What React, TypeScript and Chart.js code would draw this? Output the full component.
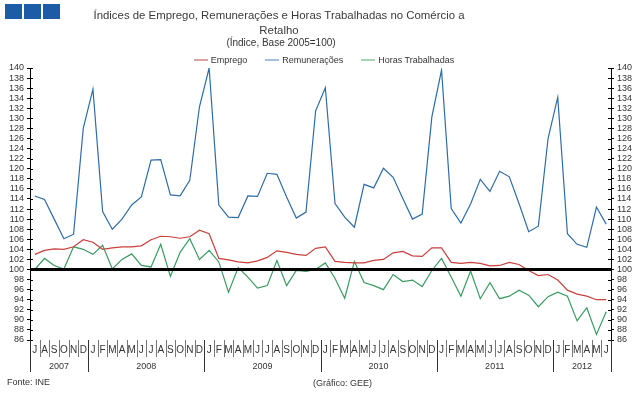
import React, { useEffect, useRef } from 'react';
import { Chart, registerables } from 'chart.js';

Chart.register(...registerables);

// ---- Data ----
const monthLabels = [
  'J', 'A', 'S', 'O', 'N', 'D',
  'J', 'F', 'M', 'A', 'M', 'J', 'J', 'A', 'S', 'O', 'N', 'D',
  'J', 'F', 'M', 'A', 'M', 'J', 'J', 'A', 'S', 'O', 'N', 'D',
  'J', 'F', 'M', 'A', 'M', 'J', 'J', 'A', 'S', 'O', 'N', 'D',
  'J', 'F', 'M', 'A', 'M', 'J', 'J', 'A', 'S', 'O', 'N', 'D',
  'J', 'F', 'M', 'A', 'M', 'J',
];
const yearLabels = ['2007', '2008', '2009', '2010', '2011', '2012'];
const yearMonthCounts = [6, 12, 12, 12, 12, 6];

const emprego = [
  103.0, 103.8, 104.1, 104.0, 104.5, 105.9,
  105.4, 104.0, 104.3, 104.5, 104.5, 104.7, 105.9, 106.6, 106.5, 106.2, 106.5, 107.8,
  107.1, 102.2, 101.9, 101.5, 101.3, 101.7, 102.4, 103.7, 103.4, 103.0, 102.8, 104.2,
  104.5, 101.6, 101.4, 101.3, 101.3, 101.8, 102.0, 103.3, 103.6, 102.7, 102.6, 104.3,
  104.3, 101.4, 101.2, 101.4, 101.2, 100.7, 100.8, 101.4, 101.0, 99.8, 98.8, 99.0,
  97.9, 95.9, 95.1, 94.7, 94.0, 94.0,
];
const remuneracoes = [
  114.6, 113.9, 110.0, 106.1, 107.0, 128.0,
  135.8, 111.5, 108.0, 110.0, 112.8, 114.4, 121.7, 121.8, 114.8, 114.6, 117.7, 132.3,
  140.0, 112.8, 110.4, 110.3, 114.6, 114.5, 119.1, 118.9, 114.4, 110.2, 111.4, 131.5,
  136.1, 113.1, 110.4, 108.4, 116.9, 116.2, 120.1, 118.3, 114.1, 110.0, 111.0, 130.3,
  139.6, 112.1, 109.2, 113.0, 117.9, 115.5, 119.5, 118.4, 113.1, 107.5, 108.6, 126.0,
  134.2, 107.1, 105.0, 104.4, 112.4, 109.0,
];
const horasTrabalhadas = [
  100.0, 102.2, 100.8, 100.1, 104.5, 104.0,
  103.0, 104.8, 100.1, 102.0, 103.1, 100.8, 100.5, 105.0, 98.6, 103.4, 106.1, 102.0,
  103.8, 101.5, 95.5, 100.4, 98.5, 96.3, 96.8, 101.8, 96.8, 99.8, 99.6, 100.0,
  101.3, 98.2, 94.3, 101.6, 97.4, 96.8, 96.0, 99.0, 97.6, 97.9, 96.6, 99.8,
  102.2, 98.5, 94.7, 99.7, 94.2, 97.4, 94.2, 94.7, 95.9, 94.9, 92.6, 94.6,
  95.5, 94.7, 89.8, 92.4, 87.1, 91.6,
];
const yMin = 86;
const yMax = 140;
const yStep = 2;
const baseValue = 100;

const seriesNames = ['Emprego', 'Remunerações', 'Horas Trabalhadas'];
const RED = '#c9403c';
const BLUE = '#2d6ca5';
const GREEN = '#3a9b62';
const LEGEND_COLORS = ['#dba3a2', '#a5bfd8', '#a6d2b8'];
const FONT = "'Liberation Sans', Arial, sans-serif";
const TEXT = '#333333';

const decorPlugin = {
  id: 'decor',
  afterDatasetsDraw(chart: any) {
    const { ctx, chartArea, scales } = chart;
    const yv = scales.y.getPixelForValue(baseValue);
    ctx.save();
    ctx.strokeStyle = '#000';
    ctx.lineWidth = 3;
    ctx.beginPath();
    ctx.moveTo(chartArea.left, yv);
    ctx.lineTo(chartArea.right, yv);
    ctx.stroke();
    ctx.restore();
  },
  afterDraw(chart: any) {
    const { ctx, chartArea, scales } = chart;
    const xs = scales.x;
    const n = monthLabels.length;
    const boundary = (k: number) => {
      if (k <= 0) return chartArea.left;
      if (k >= n) return chartArea.right;
      return (xs.getPixelForValue(k - 1) + xs.getPixelForValue(k)) / 2;
    };
    const bottom = chartArea.bottom;
    ctx.save();
    // inner tick marks on y axes
    ctx.strokeStyle = '#000';
    ctx.lineWidth = 1;
    for (let v = yMin; v <= yMax; v += yStep) {
      const py = Math.round(scales.y.getPixelForValue(v)) + 0.5;
      ctx.beginPath();
      ctx.moveTo(chartArea.left, py);
      ctx.lineTo(chartArea.left + 3, py);
      ctx.moveTo(chartArea.right, py);
      ctx.lineTo(chartArea.right - 3, py);
      ctx.stroke();
    }
    // month separators
    ctx.strokeStyle = '#777';
    for (let k = 1; k < n; k++) {
      const px = Math.round(boundary(k)) + 0.5;
      ctx.beginPath();
      ctx.moveTo(px, bottom);
      ctx.lineTo(px, bottom + 17);
      ctx.stroke();
    }
    // year separators and labels
    let start = 0;
    ctx.fillStyle = TEXT;
    ctx.font = `9px ${FONT}`;
    ctx.textAlign = 'center';
    ctx.textBaseline = 'middle';
    const yearBounds = [0];
    yearMonthCounts.forEach((c) => yearBounds.push(yearBounds[yearBounds.length - 1] + c));
    ctx.strokeStyle = '#333';
    yearBounds.forEach((k) => {
      const px = Math.round(boundary(k)) + 0.5;
      ctx.beginPath();
      ctx.moveTo(px, bottom);
      ctx.lineTo(px, bottom + 32);
      ctx.stroke();
    });
    yearLabels.forEach((lab, i) => {
      const x0 = boundary(start);
      const x1 = boundary(start + yearMonthCounts[i]);
      ctx.fillText(lab, (x0 + x1) / 2, bottom + 27);
      start += yearMonthCounts[i];
    });
    ctx.restore();
  },
};

const yScale = (position: 'left' | 'right', width: number) => ({
  position,
  min: yMin,
  max: yMax,
  ticks: {
    stepSize: yStep,
    autoSkip: false,
    padding: 3,
    color: TEXT,
    font: { size: 9, family: FONT },
  },
  grid: { drawOnChartArea: false, tickLength: 3, color: '#000' },
  border: { display: true, color: '#000', width: 1 },
  afterFit: (s: any) => {
    s.width = width;
  },
});

export default function App() {
  const canvasRef = useRef<HTMLCanvasElement | null>(null);

  useEffect(() => {
    if (!canvasRef.current) return;
    const colors = [RED, BLUE, GREEN];
    const series = [emprego, remuneracoes, horasTrabalhadas];
    const chart = new Chart(canvasRef.current, {
      type: 'line',
      data: {
        labels: monthLabels,
        datasets: series.map((d, i) => ({
          label: seriesNames[i],
          data: d,
          borderColor: colors[i],
          backgroundColor: colors[i],
          borderWidth: 1.2,
          pointRadius: 0,
          tension: 0,
          fill: false,
          yAxisID: 'y',
        })),
      },
      options: {
        responsive: false,
        animation: false,
        devicePixelRatio: 1,
        layout: { padding: { top: 68, left: 0, right: 0, bottom: 0 } },
        plugins: {
          legend: { display: false },
          title: { display: false },
          tooltip: { enabled: false },
        },
        scales: {
          x: {
            offset: true,
            grid: { display: false, drawTicks: false },
            border: { display: false },
            ticks: {
              autoSkip: false,
              maxRotation: 0,
              minRotation: 0,
              padding: 4,
              color: TEXT,
              font: { size: 10, family: FONT },
            },
            afterFit: (s: any) => {
              s.height = 54;
            },
          },
          y: yScale('left', 30),
          y2: yScale('right', 32),
        },
      } as any,
      plugins: [decorPlugin],
    });
    return () => chart.destroy();
  }, []);

  const abs = (s: React.CSSProperties): React.CSSProperties => ({ position: 'absolute', ...s });

  return (
    <div
      style={{
        position: 'fixed',
        left: 0,
        top: 0,
        width: 643,
        height: 394,
        background: '#fff',
        fontFamily: FONT,
        color: TEXT,
      }}
    >
      <canvas ref={canvasRef} width={643} height={394} style={{ position: 'absolute', left: 0, top: 0 }} />
      {[5, 24, 43].map((x) => (
        <div key={x} style={abs({ left: x, top: 4, width: 17, height: 15, background: '#1d5ba6' })} />
      ))}
      <div
        style={abs({
          left: 29,
          top: 8,
          width: 500,
          textAlign: 'center',
          fontSize: 11.4,
          lineHeight: '15px',
          color: '#3a3a3a',
        })}
      >
        Índices de Emprego, Remunerações e Horas Trabalhadas no Comércio a
        <br />
        Retalho
      </div>
      <div style={abs({ left: 31, top: 37, width: 500, textAlign: 'center', fontSize: 10, lineHeight: '12px' })}>
        (Índice, Base 2005=100)
      </div>
      <div
        style={abs({
          left: 24,
          top: 54,
          width: 600,
          display: 'flex',
          justifyContent: 'center',
          fontSize: 9,
          lineHeight: '12px',
        })}
      >
        {seriesNames.map((name, i) => (
          <div key={name} style={{ display: 'flex', alignItems: 'center', marginLeft: i === 0 ? 0 : 18 }}>
            <div style={{ width: 14, height: 2, background: LEGEND_COLORS[i], marginRight: 3 }} />
            <span>{name}</span>
          </div>
        ))}
      </div>
      <div style={abs({ left: 7, top: 376, fontSize: 9, lineHeight: '12px' })}>Fonte: INE</div>
      <div style={abs({ left: 313, top: 377, fontSize: 9, lineHeight: '12px' })}>(Gráfico: GEE)</div>
    </div>
  );
}
